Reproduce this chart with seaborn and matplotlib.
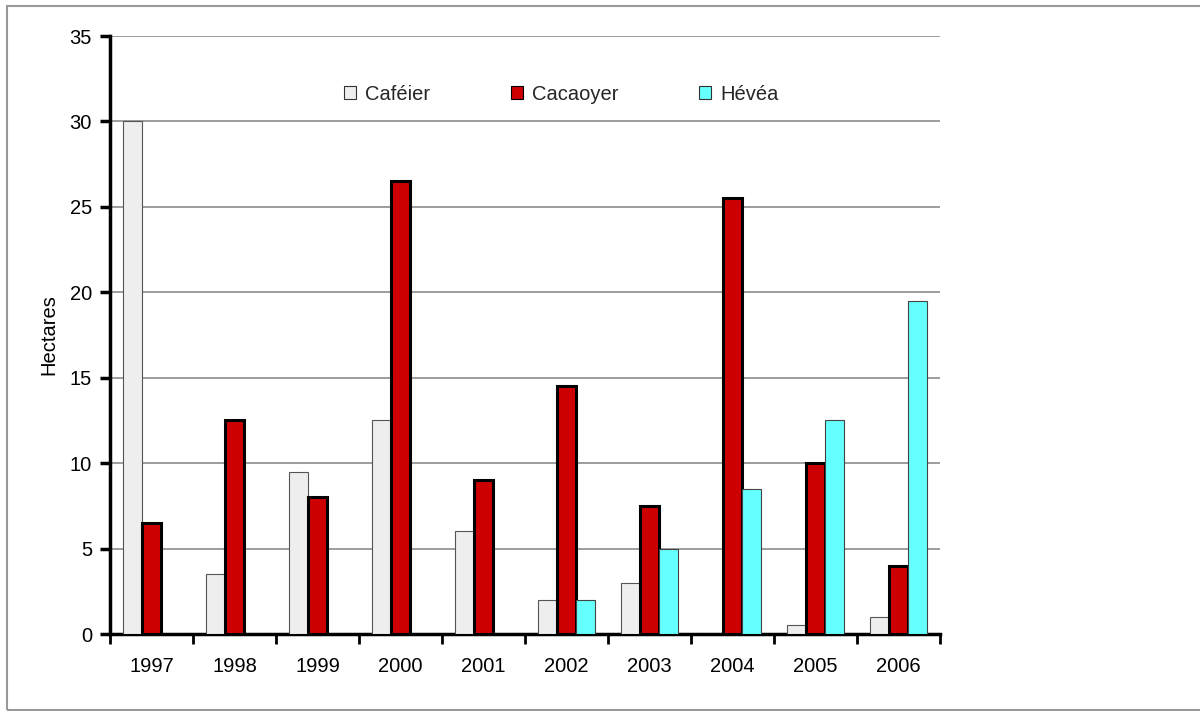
import numpy as np
import pandas as pd
import matplotlib
matplotlib.use("Agg")
import matplotlib.pyplot as plt
import seaborn as sns
from matplotlib.patches import Rectangle

# data
annees = ["1997", "1998", "1999", "2000", "2001", "2002", "2003", "2004", "2005", "2006"]
cafeier = [30, 3.5, 9.5, 12.5, 6, 2, 3, 0, 0.5, 1]
cacaoyer = [6.5, 12.5, 8, 26.5, 9, 14.5, 7.5, 25.5, 10, 4]
hevea = [0, 0, 0, 0, 0, 2, 5, 8.5, 12.5, 19.5]
cultures = ["Caféier", "Cacaoyer", "Hévéa"]
couleurs = ["#EEEEEE", "#CC0000", "#66FFFF"]
bords = ["#555555", "#000000", "#444444"]
epaisseurs = [0.8, 2.2, 0.8]

df = pd.DataFrame({
    "Année": annees * 3,
    "Hectares": cafeier + cacaoyer + hevea,
    "Culture": [c for c in cultures for _ in annees],
})

sns.set_theme(style="white")
plt.rcParams["font.family"] = ["Liberation Sans", "DejaVu Sans"]
fs = 14.5

fig = plt.figure(figsize=(12, 7.11), dpi=100)
ax = fig.add_axes([110 / 1200, 77 / 711, 830 / 1200, 598 / 711])

sns.barplot(data=df, x="Année", y="Hectares", hue="Culture", hue_order=cultures,
            palette=couleurs, saturation=1, width=0.675, gap=0, ax=ax, zorder=3)

for cont, bc, lw in zip(ax.containers, bords, epaisseurs):
    for bar in cont:
        bar.set_edgecolor(bc)
        bar.set_linewidth(lw)

ax.set_ylim(0, 35)
ax.set_xlim(-0.5, 9.5)
ax.set_yticks(np.arange(0, 36, 5))
ax.yaxis.grid(True, color="#8c8c8c", linewidth=1.2, zorder=0)
ax.set_axisbelow(True)

# ticks at group boundaries, labels centred on groups
ax.set_xticks(np.arange(-0.5, 10, 1))
ax.set_xticklabels([])
ax.set_xticks(np.arange(10), minor=True)
ax.set_xticklabels(annees, minor=True)
ax.tick_params(axis="x", which="major", direction="out", length=7, width=2, color="black", bottom=True)
ax.tick_params(axis="x", which="minor", length=0, pad=16.5, labelsize=fs, labelcolor="black")
ax.tick_params(axis="y", direction="out", length=7, width=2.5, color="black", left=True,
               pad=6, labelsize=fs, labelcolor="black")

for s in ["top", "right"]:
    ax.spines[s].set_visible(False)
for s in ["left", "bottom"]:
    ax.spines[s].set_color("black")
    ax.spines[s].set_linewidth(2.5)

ax.set_xlabel("")
ax.set_ylabel("Hectares", fontsize=fs, color="black", labelpad=8)

leg = ax.legend(loc="center", bbox_to_anchor=(0.544, 0.903), ncol=3, frameon=False,
                fontsize=fs, handlelength=0.6, handleheight=0.6, handletextpad=0.45,
                columnspacing=4.0)
for h, bc in zip(leg.legend_handles, ["#333333", "#000000", "#333333"]):
    h.set_edgecolor(bc)
    h.set_linewidth(0.8)

# outer frame of the picture
fig.patches.append(Rectangle((7 / 1200, 1 / 711), 1.1, 704 / 711, transform=fig.transFigure,
                             fill=False, edgecolor="#999999", linewidth=1.5))

fig.savefig("out.png", dpi=100)
